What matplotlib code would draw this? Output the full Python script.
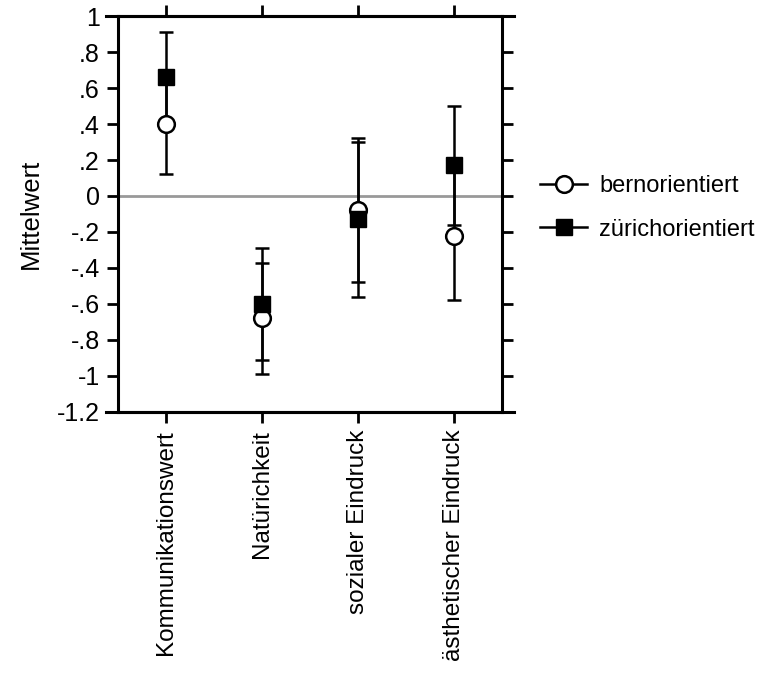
import numpy as np
import matplotlib
matplotlib.use("Agg")
import matplotlib.pyplot as plt

# values
categories = ["Kommunikationswert", "Natürichkeit", "sozialer Eindruck", "ästhetischer Eindruck"]
bern = [0.40, -0.68, -0.08, -0.22]
bern_err = [0.275, 0.31, 0.40, 0.36]
zurich = [0.66, -0.60, -0.13, 0.17]
zurich_err = [0.25, 0.31, 0.43, 0.33]
yticks = [1, 0.8, 0.6, 0.4, 0.2, 0, -0.2, -0.4, -0.6, -0.8, -1, -1.2]
ytick_labels = ["1", ".8", ".6", ".4", ".2", "0", "-.2", "-.4", "-.6", "-.8", "-1", "-1.2"]

plt.rcParams['font.family'] = ['Liberation Sans', 'DejaVu Sans']

fig = plt.figure(figsize=(7.75, 6.75), dpi=100)
ax = fig.add_axes([0.152, 0.390, 0.496, 0.586])

x = np.arange(1, len(categories) + 1)

# zero reference line
ax.axhline(0, color="#999999", lw=2, zorder=1)

# error bars first, then markers on top
ax.errorbar(x, bern, yerr=bern_err, fmt="none", ecolor="black", elinewidth=1.8,
            capsize=5, capthick=1.8, zorder=2)
ax.errorbar(x, zurich, yerr=zurich_err, fmt="none", ecolor="black", elinewidth=1.8,
            capsize=5, capthick=1.8, zorder=2)
ax.plot(x, bern, "o", ms=12, mfc="white", mec="black", mew=1.8, ls="none", zorder=3)
ax.plot(x, zurich, "s", ms=12, mfc="black", mec="black", ls="none", zorder=4)

ax.set_xlim(0.5, len(categories) + 0.5)
ax.set_ylim(-1.2, 1)
ax.set_yticks(yticks)
ax.set_yticklabels(ytick_labels, fontsize=18)
ax.set_xticks(x)
ax.set_xticklabels(categories, rotation=90, fontsize=17.5, va="top", ha="center")
ax.tick_params(axis="both", direction="out", length=8, width=2,
               top=True, right=True, labeltop=False, labelright=False)
ax.tick_params(axis="x", pad=5)
ax.tick_params(axis="y", pad=5)
for s in ax.spines.values():
    s.set_linewidth(2.2)

# frame lines run past the corners like in the original
for yy in (0, 1):
    ax.plot([-0.03, 1.03], [yy, yy], color="black", lw=2.2,
            transform=ax.transAxes, clip_on=False, zorder=5)

ax.set_ylabel("Mittelwert", fontsize=18.5, labelpad=10)

# legend outside on the right
h1, = ax.plot([], [], "-o", color="black", ms=12, mfc="white", mew=1.8, lw=1.8)
h2, = ax.plot([], [], "-s", color="black", ms=12, mfc="black", lw=1.8)
fig.legend([h1, h2], ["bernorientiert", "zürichorientiert"],
           loc="center left", bbox_to_anchor=(0.697, 0.692), frameon=False,
           borderpad=0, borderaxespad=0, fontsize=17, handlelength=2.0,
           labelspacing=0.9, handletextpad=0.5)

fig.savefig("out.png", dpi=100)
